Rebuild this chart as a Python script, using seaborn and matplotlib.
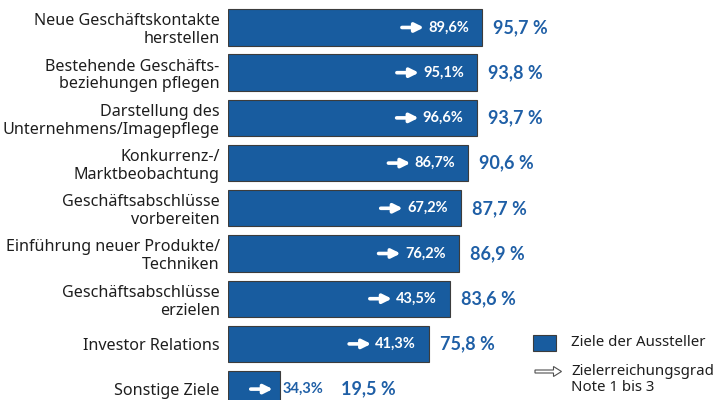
import matplotlib
matplotlib.use("Agg")
import matplotlib.pyplot as plt
from matplotlib.transforms import offset_copy
from matplotlib.patches import Rectangle, FancyArrow
import seaborn as sns

# data
categories = [
    "Neue Geschäftskontakte\nherstellen",
    "Bestehende Geschäfts-\nbeziehungen pflegen",
    "Darstellung des\nUnternehmens/Imagepflege",
    "Konkurrenz-/\nMarktbeobachtung",
    "Geschäftsabschlüsse\nvorbereiten",
    "Einführung neuer Produkte/\nTechniken",
    "Geschäftsabschlüsse\nerzielen",
    "Investor Relations",
    "Sonstige Ziele",
]
ziele = [95.7, 93.8, 93.7, 90.6, 87.7, 86.9, 83.6, 75.8, 19.5]
erreichung = [89.6, 95.1, 96.6, 86.7, 67.2, 76.2, 43.5, 41.3, 34.3]

BAR = "#185c9f"
TXT = "#1f5fa6"
BOLD = ["Lato", "DejaVu Sans"]

sns.set_theme(style="white")
plt.rcParams["font.family"] = ["Noto Sans", "DejaVu Sans"]

fig = plt.figure(figsize=(7.21, 4.0), dpi=100)
ax = fig.add_axes([228 / 721, 0, 1 - 228 / 721, 1])

sns.barplot(x=ziele, y=categories, color=BAR, saturation=1, width=0.805,
            edgecolor="#3c3c3c", linewidth=0.8, ax=ax)

ax.set_xlim(0, 185.8)
ax.set_ylim(8.241, -0.608)
sns.despine(ax=ax, left=True, bottom=True)
ax.set_xticks([])
ax.set_xlabel("")
ax.set_ylabel("")
ax.tick_params(axis="y", length=0, pad=6)
for lab in ax.get_yticklabels():
    lab.set_fontsize(11.6)
    lab.set_color("#1e1e1e")
    lab.set_linespacing(1.15)


def off(px):
    return offset_copy(ax.transData, fig=fig, x=px, y=0, units="dots")


for i, (v, e) in enumerate(zip(ziele, erreichung)):
    label = f"{e:.1f}%".replace(".", ",")
    value = f"{v:.1f} %".replace(".", ",")
    if v > 30:
        a_end, t_x, t_col, v_x = -58, -13, "white", 11
        t_ha = "right"
    else:
        a_end, t_x, t_col, v_x = -7, 3, TXT, 61
        t_ha = "left"
    ax.annotate("", xy=(v, i), xycoords=off(a_end),
                xytext=(-22, 0), textcoords="offset pixels",
                arrowprops=dict(arrowstyle="-|>", color="white", lw=2.6,
                                mutation_scale=13, shrinkA=0, shrinkB=0))
    ax.text(v, i, label, transform=off(t_x), ha=t_ha, va="center",
            color=t_col, fontsize=10.5, fontweight="bold", family=BOLD)
    ax.text(v, i, value, transform=off(v_x), ha="left", va="center",
            color=TXT, fontsize=13, fontweight="bold", family=BOLD)

# legend
fig.add_artist(Rectangle((5.33, (400 - 351) / 100), 0.23, 0.16,
                         transform=fig.dpi_scale_trans, facecolor=BAR,
                         edgecolor="#3c3c3c", lw=0.8))
fig.add_artist(FancyArrow(5.35, (400 - 371.5) / 100, 0.265, 0, width=0.03,
                          head_width=0.1, head_length=0.08,
                          length_includes_head=True, facecolor="white",
                          edgecolor="#505050", lw=0.8,
                          transform=fig.dpi_scale_trans))
fig.text(571 / 721, 1 - 342 / 400, "Ziele der Aussteller", va="center",
         fontsize=10.8, color="#1e1e1e")
fig.text(571 / 721, 1 - 379.5 / 400, "Zielerreichungsgrad\nNote 1 bis 3",
         va="center", fontsize=10.8, color="#1e1e1e", linespacing=1.15)

fig.savefig("out.png", dpi=100)
